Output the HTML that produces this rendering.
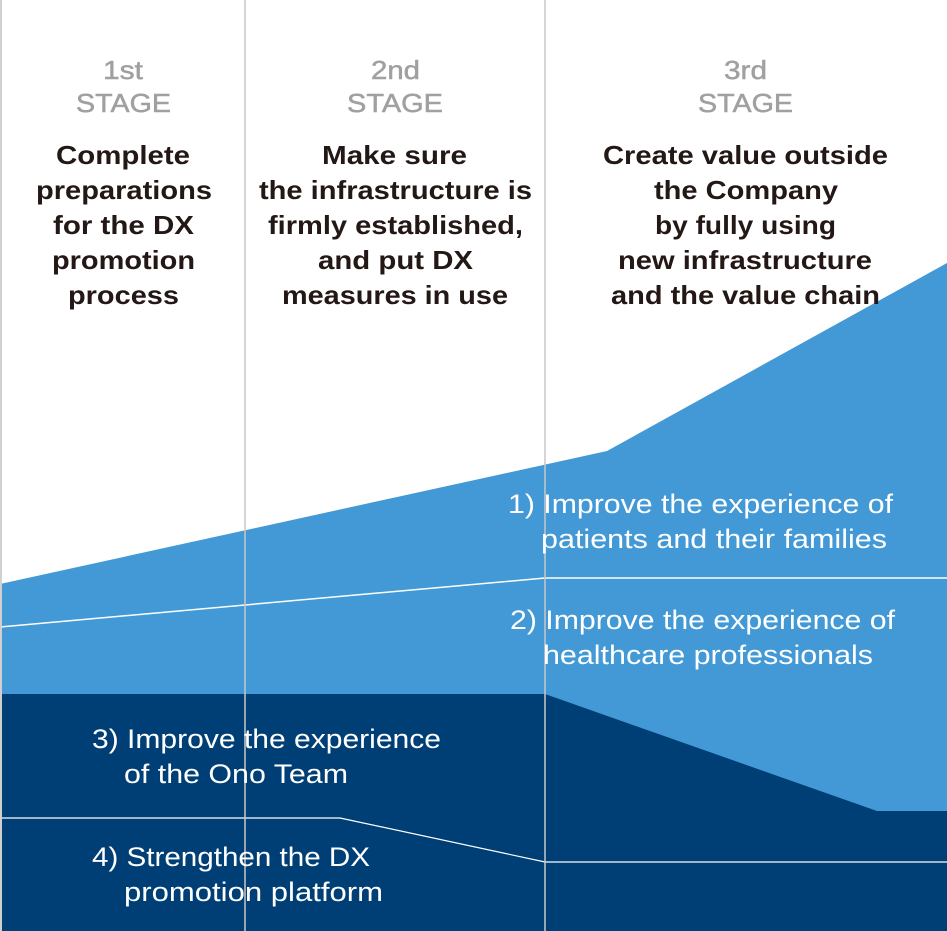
<!DOCTYPE html>
<html><head><style>
html,body{margin:0;padding:0;background:#fff}
svg{display:block}
text{font-family:"Liberation Sans",Arial,sans-serif}
</style></head><body>
<svg width="947" height="931" viewBox="0 0 947 931" xmlns="http://www.w3.org/2000/svg">
<rect width="947" height="931" fill="#fff"/>
<polygon points="0,584 607,451 947,263 947,931 0,931" fill="#4299d6"/>
<polygon points="0,694 545,694 877,811 947,811 947,931 0,931" fill="#003f75"/>
<polyline points="0,627 545,578 947,578" fill="none" stroke="#fff" stroke-width="1.5"/>
<polyline points="0,818 340,818 545,862 947,862" fill="none" stroke="#fff" stroke-width="1.2"/>
<line x1="1" y1="0" x2="1" y2="931" stroke="#d0d0d0" stroke-width="2"/>
<line x1="245" y1="0" x2="245" y2="931" stroke="#c8c8c8" stroke-width="1.5"/>
<line x1="545" y1="0" x2="545" y2="931" stroke="#c8c8c8" stroke-width="1.5"/>
<g fill="#a0a0a0" stroke="#a0a0a0" stroke-width="0.5" font-size="26">
<text x="103" y="79" textLength="40" lengthAdjust="spacingAndGlyphs">1st</text><text x="76" y="112" textLength="95" lengthAdjust="spacingAndGlyphs">STAGE</text>
<text x="371" y="79" textLength="49" lengthAdjust="spacingAndGlyphs">2nd</text><text x="347" y="112" textLength="96" lengthAdjust="spacingAndGlyphs">STAGE</text>
<text x="724" y="79" textLength="43" lengthAdjust="spacingAndGlyphs">3rd</text><text x="698" y="112" textLength="95" lengthAdjust="spacingAndGlyphs">STAGE</text>
</g>
<g fill="#231815" font-size="26" font-weight="bold">
<text x="56" y="164" textLength="134" lengthAdjust="spacingAndGlyphs">Complete</text>
<text x="36" y="199" textLength="176" lengthAdjust="spacingAndGlyphs">preparations</text>
<text x="53" y="234" textLength="141" lengthAdjust="spacingAndGlyphs">for the DX</text>
<text x="52" y="269" textLength="143" lengthAdjust="spacingAndGlyphs">promotion</text>
<text x="68" y="304" textLength="111" lengthAdjust="spacingAndGlyphs">process</text>
<text x="322" y="164" textLength="145" lengthAdjust="spacingAndGlyphs">Make sure</text>
<text x="259" y="199" textLength="273" lengthAdjust="spacingAndGlyphs">the infrastructure is</text>
<text x="268" y="234" textLength="255" lengthAdjust="spacingAndGlyphs">firmly established,</text>
<text x="318" y="269" textLength="155" lengthAdjust="spacingAndGlyphs">and put DX</text>
<text x="282" y="304" textLength="226" lengthAdjust="spacingAndGlyphs">measures in use</text>
<text x="603" y="164" textLength="285" lengthAdjust="spacingAndGlyphs">Create value outside</text>
<text x="654" y="199" textLength="184" lengthAdjust="spacingAndGlyphs">the Company</text>
<text x="655" y="234" textLength="181" lengthAdjust="spacingAndGlyphs">by fully using</text>
<text x="618" y="269" textLength="254" lengthAdjust="spacingAndGlyphs">new infrastructure</text>
<text x="611" y="304" textLength="269" lengthAdjust="spacingAndGlyphs">and the value chain</text>
</g>
<g fill="#fff" font-size="27">
<text x="508" y="513" textLength="385" lengthAdjust="spacingAndGlyphs">1) Improve the experience of</text>
<text x="541" y="548" textLength="346" lengthAdjust="spacingAndGlyphs">patients and their families</text>
<text x="510" y="629" textLength="385" lengthAdjust="spacingAndGlyphs">2) Improve the experience of</text>
<text x="543" y="664" textLength="330" lengthAdjust="spacingAndGlyphs">healthcare professionals</text>
<text x="92" y="748" textLength="349" lengthAdjust="spacingAndGlyphs">3) Improve the experience</text>
<text x="124" y="783" textLength="224" lengthAdjust="spacingAndGlyphs">of the Ono Team</text>
<text x="92" y="866" textLength="278" lengthAdjust="spacingAndGlyphs">4) Strengthen the DX</text>
<text x="124" y="901" textLength="259" lengthAdjust="spacingAndGlyphs">promotion platform</text>
</g>
</svg>
</body></html>
